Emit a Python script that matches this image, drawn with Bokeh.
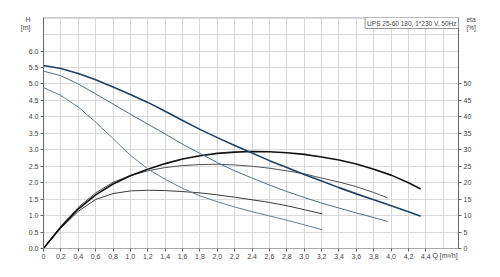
from bokeh.plotting import figure
from bokeh.models import LinearAxis, Range1d, FixedTicker, Label
from bokeh.embed import file_html
from bokeh.resources import INLINE

# ---- data ----
q_h3 = [0, 0.2, 0.4, 0.6, 0.8, 1.0, 1.2, 1.4, 1.6, 1.8, 2.0, 2.2, 2.4, 2.6, 2.8, 3.0, 3.2, 3.4, 3.6, 3.8, 4.0, 4.2, 4.34]
h3 = [5.56, 5.47, 5.32, 5.13, 4.91, 4.68, 4.44, 4.17, 3.89, 3.62, 3.37, 3.13, 2.90, 2.67, 2.46, 2.25, 2.05, 1.85, 1.66, 1.48, 1.30, 1.12, 0.98]
q_h2 = [0, 0.2, 0.4, 0.6, 0.8, 1.0, 1.2, 1.4, 1.6, 1.8, 2.0, 2.2, 2.4, 2.6, 2.8, 3.0, 3.2, 3.4, 3.6, 3.8, 3.96]
h2 = [5.39, 5.25, 5.00, 4.70, 4.39, 4.08, 3.78, 3.48, 3.17, 2.89, 2.61, 2.36, 2.14, 1.93, 1.73, 1.55, 1.38, 1.23, 1.08, 0.94, 0.82]
q_h1 = [0, 0.2, 0.4, 0.6, 0.8, 1.0, 1.2, 1.4, 1.6, 1.8, 2.0, 2.2, 2.4, 2.6, 2.8, 3.0, 3.21]
h1 = [4.89, 4.65, 4.30, 3.84, 3.34, 2.83, 2.42, 2.10, 1.83, 1.60, 1.42, 1.26, 1.12, 0.99, 0.86, 0.72, 0.57]

q_e3 = q_h3
eta3 = [0, 6.5, 12.0, 16.3, 19.6, 22.1, 24.1, 25.8, 27.2, 28.2, 28.9, 29.3, 29.5, 29.4, 29.1, 28.6, 27.8, 26.9, 25.7, 24.1, 22.3, 20.0, 18.1]
q_e2 = q_h2
eta2 = [0, 6.8, 12.5, 16.9, 20.1, 22.2, 23.6, 24.6, 25.2, 25.5, 25.6, 25.4, 25.0, 24.4, 23.6, 22.7, 21.4, 20.2, 18.8, 17.0, 15.4]
q_e1 = q_h1
eta1 = [0, 6.2, 11.3, 14.9, 16.7, 17.5, 17.7, 17.6, 17.3, 16.9, 16.3, 15.6, 14.8, 14.0, 13.0, 11.8, 10.5]

x_ticks = [round(0.2 * i, 1) for i in range(23)]          # 0 .. 4.4
x_tick_labels = {t: ("0" if t == 0 else f"{t:.1f}".replace(".", ",")) for t in x_ticks}
h_ticks = [0.5 * i for i in range(13)]                     # 0 .. 6.0
eta_ticks = [5 * i for i in range(11)]                     # 0 .. 50
title_text = "UPS 25-60 180, 1*230 V, 50Hz"
# unit labels, placed on the axes at these axis values
q_unit = {4.62: "Q [m³/h]"}
h_unit = {6.96: "H", 6.72: "[m]"}
eta_unit = {69.6: "eta", 67.2: "[%]"}

FONT = "Liberation Sans"
TXT = "#444444"

p = figure(width=500, height=277, output_backend="svg", toolbar_location=None,
           x_range=Range1d(0, 4.775), y_range=Range1d(0, 7.02),
           min_border_left=43, min_border_right=42, min_border_top=17, min_border_bottom=29,
           x_axis_location=None, y_axis_location=None)
p.background_fill_color = "white"
p.border_fill_color = "white"
p.outline_line_color = "#cfcfcf"
p.extra_y_ranges = {"eta": Range1d(0, 70.2)}

def style_axis(ax):
    ax.major_label_text_font = FONT
    ax.major_label_text_font_size = "7px"
    ax.major_label_text_color = TXT
    ax.major_tick_line_color = "#666666"
    ax.major_tick_out = 3
    ax.major_tick_in = 0
    ax.minor_tick_line_color = None
    ax.major_label_standoff = 2
    ax.axis_line_color = "#666666"

def unit_axis(ax, standoff):
    style_axis(ax)
    ax.major_tick_line_color = None
    ax.major_tick_out = 0
    ax.axis_line_color = None
    ax.major_label_standoff = standoff

xa = LinearAxis(ticker=FixedTicker(ticks=x_ticks))
xa.major_label_overrides = x_tick_labels
style_axis(xa)
xa.axis_line_color = "#aaaaaa"
p.add_layout(xa, "below")
xa2 = LinearAxis(ticker=FixedTicker(ticks=list(q_unit)))
xa2.major_label_overrides = q_unit
unit_axis(xa2, -10)
p.add_layout(xa2, "below")

ya = LinearAxis(ticker=FixedTicker(ticks=h_ticks))
ya.major_label_overrides = {t: f"{t:.1f}" for t in h_ticks}
style_axis(ya)
p.add_layout(ya, "left")
ya2 = LinearAxis(ticker=FixedTicker(ticks=list(h_unit)))
ya2.major_label_overrides = h_unit
unit_axis(ya2, -5)
p.add_layout(ya2, "left")

ra = LinearAxis(y_range_name="eta", ticker=FixedTicker(ticks=eta_ticks))
style_axis(ra)
p.add_layout(ra, "right")
ra2 = LinearAxis(y_range_name="eta", ticker=FixedTicker(ticks=list(eta_unit)))
ra2.major_label_overrides = eta_unit
unit_axis(ra2, -8)
ra2.major_label_text_font_size = "6.5px"
p.add_layout(ra2, "right")

p.xgrid.ticker = FixedTicker(ticks=[round(0.2 * i, 1) for i in range(24)])
p.ygrid.ticker = FixedTicker(ticks=[0.5 * i for i in range(15)])
for g in (p.xgrid, p.ygrid):
    g.grid_line_color = "#d9d9d9"
    g.grid_line_width = 1

# efficiency curves
p.line(q_e1, eta1, y_range_name="eta", line_color="#3a3a3a", line_width=1.0)
p.line(q_e2, eta2, y_range_name="eta", line_color="#505050", line_width=1.0)
p.line(q_e3, eta3, y_range_name="eta", line_color="#111111", line_width=1.6)
# head curves
p.line(q_h1, h1, line_color="#5f7d92", line_width=1.0)
p.line(q_h2, h2, line_color="#4f6c82", line_width=1.0)
p.line(q_h3, h3, line_color="#1f4060", line_width=1.6)

p.add_layout(Label(x=4.775, y=7.02, text=title_text, text_font=FONT, text_font_size="6.5px",
                   text_color=TXT, text_align="right", text_baseline="top",
                   border_line_color="#999999", background_fill_color="white",
                   padding=2))

open("out.html", "w").write(file_html(p, INLINE))
